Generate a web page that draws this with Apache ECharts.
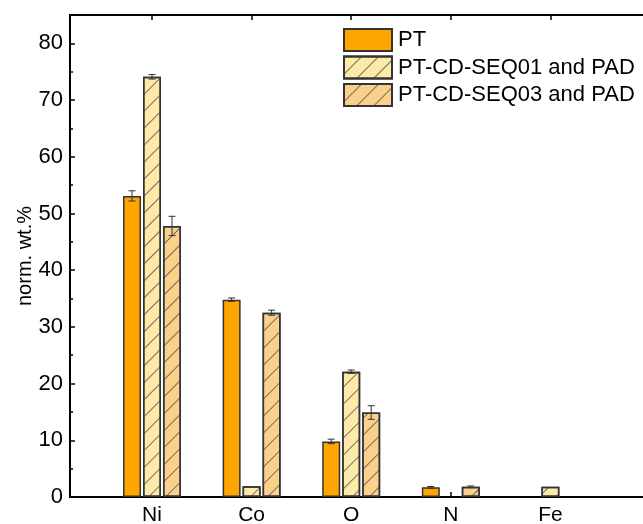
<!DOCTYPE html>
<html>
<head>
<meta charset="utf-8">
<script src="https://cdn.jsdelivr.net/npm/echarts@6/dist/echarts.min.js"></script>
<style>
html,body{margin:0;padding:0;background:#fff;}
#chart{width:643px;height:524px;}
</style>
</head>
<body>
<div id="chart"></div>
<script>
const categories = ['Ni', 'Co', 'O', 'N', 'Fe'];
const seriesNames = ['PT', 'PT-CD-SEQ01 and PAD', 'PT-CD-SEQ03 and PAD'];
const valuesPT = [53.1, 34.8, 9.8, 1.7, '-'];
const valuesSEQ01 = [74.1, 1.9, 22.1, '-', 1.8];
const valuesSEQ03 = [47.8, 32.5, 14.9, 1.8, '-'];
const errPT = [0.9, 0.3, 0.4, 0.15, null];
const errSEQ01 = [0.4, null, 0.3, null, null];
const errSEQ03 = [1.7, 0.45, 1.2, 0.15, null];
const yTicks = [0, 10, 20, 30, 40, 50, 60, 70, 80];

const colors = ['#FFA500', '#FFE9A8', '#FAD08A'];
const FONT = 'Liberation Sans, Arial, sans-serif';
const hatch = {
  symbol: 'rect', symbolSize: 1,
  dashArrayX: [1, 0], dashArrayY: [1, 11],
  rotation: -Math.PI / 4,
  color: 'rgba(80,80,80,0.8)'
};
const BAR_W = 18, BAR_PITCH = 20;

function barSeries(i, data) {
  return {
    type: 'bar', name: seriesNames[i], xAxisIndex: 2, yAxisIndex: 1,
    data: data, barWidth: BAR_W, barGap: '11%',
    itemStyle: { color: colors[i], borderColor: '#333', borderWidth: 1.5, decal: i === 0 ? null : hatch },
    emphasis: { disabled: true }, z: 2
  };
}
function errSeries(i, vals, errs) {
  const data = [];
  vals.forEach((v, k) => { if (errs[k] != null && v !== '-') data.push([k, v, errs[k]]); });
  const off = (i - 1) * BAR_PITCH;
  return {
    type: 'custom', xAxisIndex: 2, yAxisIndex: 1, z: 5, silent: true,
    data: data,
    renderItem: function (params, api) {
      const k = api.value(0), v = api.value(1), e = api.value(2);
      const top = api.coord([k, v + e]);
      const bot = api.coord([k, v - e]);
      const x = top[0] + off;
      const cw = 3.5;
      const st = { stroke: '#333', lineWidth: 1 };
      return { type: 'group', children: [
        { type: 'line', shape: { x1: x, y1: top[1], x2: x, y2: bot[1] }, style: st },
        { type: 'line', shape: { x1: x - cw, y1: top[1], x2: x + cw, y2: top[1] }, style: st },
        { type: 'line', shape: { x1: x - cw, y1: bot[1], x2: x + cw, y2: bot[1] }, style: st }
      ]};
    }
  };
}

const chart = echarts.init(document.getElementById('chart'), null, { renderer: 'canvas' });
chart.setOption({
  animation: false,
  backgroundColor: '#fff',
  textStyle: { fontFamily: FONT },
  grid: [
    { left: 70, top: 15, width: 660, height: 482, containLabel: false, outerBoundsMode: 'none' },
    { left: 102.2, top: 15, width: 498, height: 482, containLabel: false, outerBoundsMode: 'none' }
  ],
  legend: {
    orient: 'vertical', left: 343, top: 28, padding: 0,
    icon: 'rect',
    itemWidth: 48, itemHeight: 22, itemGap: 3.5,
    data: seriesNames,
    textStyle: { fontSize: 22, lineHeight: 22, color: '#000', fontFamily: FONT, padding: [0, 0, 0, 1] },
    selectedMode: false
  },
  xAxis: [
    { type: 'value', gridIndex: 0, position: 'bottom', min: 0, max: 1,
      axisLine: { show: true, lineStyle: { color: '#000', width: 2 } },
      axisTick: { show: false }, axisLabel: { show: false }, splitLine: { show: false } },
    { type: 'value', gridIndex: 0, position: 'top', min: 0, max: 1,
      axisLine: { show: true, lineStyle: { color: '#000', width: 2 } },
      axisTick: { show: false }, axisLabel: { show: false }, splitLine: { show: false } },
    { type: 'category', gridIndex: 1, position: 'bottom', data: categories,
      axisLine: { show: false },
      axisTick: { show: true, inside: true, alignWithLabel: true, length: 5, lineStyle: { color: '#000', width: 1.5 } },
      axisLabel: { show: true, fontSize: 21, color: '#000', margin: 8, fontFamily: FONT } },
    { type: 'category', gridIndex: 1, position: 'top', data: categories,
      axisLine: { show: false },
      axisTick: { show: true, inside: true, alignWithLabel: true, length: 5, lineStyle: { color: '#000', width: 1.5 } },
      axisLabel: { show: false } }
  ],
  yAxis: [
    { type: 'value', gridIndex: 0, min: yTicks[0], max: 85, interval: 10,
      name: 'norm. wt.%', nameLocation: 'middle', nameGap: 35, nameMoveOverlap: false,
      nameTextStyle: { fontSize: 20, color: '#000', fontFamily: FONT },
      axisLine: { show: true, lineStyle: { color: '#000', width: 2 } },
      axisTick: { show: true, inside: true, length: 5, lineStyle: { color: '#000', width: 1.5 } },
      minorTick: { show: true, splitNumber: 2, length: 3, lineStyle: { color: '#000', width: 1.5 } },
      axisLabel: { fontSize: 22, color: '#000', margin: 7, showMaxLabel: false, fontFamily: FONT },
      splitLine: { show: false } },
    { type: 'value', gridIndex: 1, min: 0, max: 85, show: false }
  ],
  series: [
    barSeries(0, valuesPT), barSeries(1, valuesSEQ01), barSeries(2, valuesSEQ03),
    errSeries(0, valuesPT, errPT), errSeries(1, valuesSEQ01, errSEQ01), errSeries(2, valuesSEQ03, errSEQ03)
  ]
});
</script>
</body>
</html>
